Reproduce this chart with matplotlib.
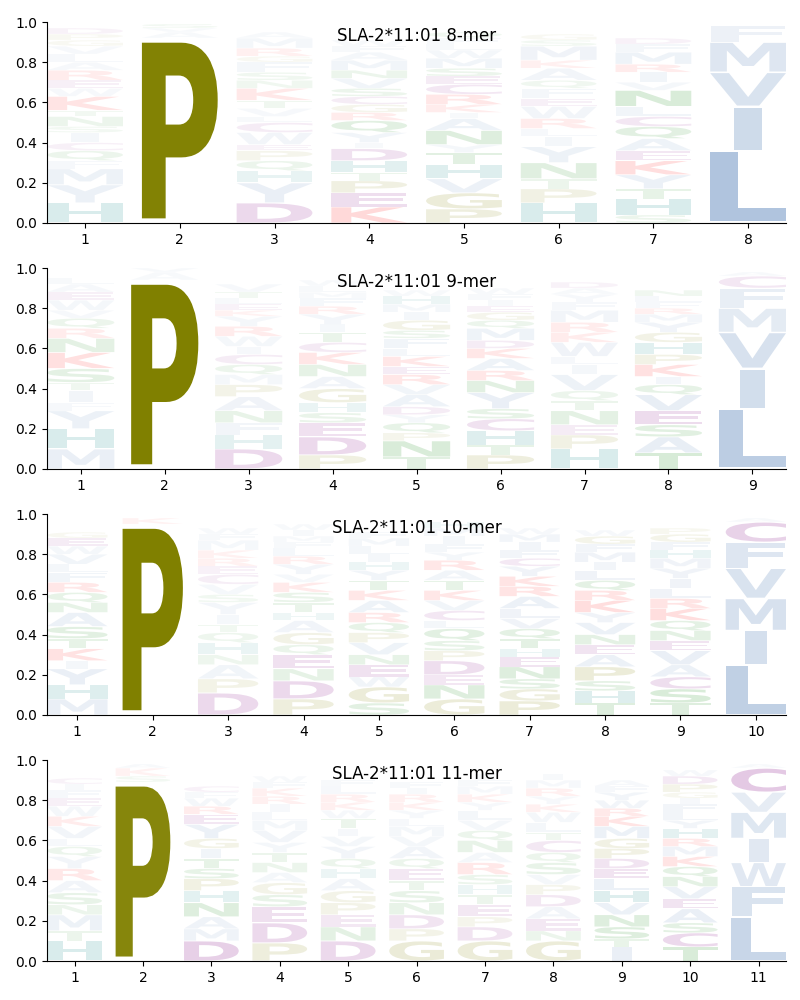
import numpy as np
import matplotlib
matplotlib.use("Agg")
import matplotlib.pyplot as plt
from matplotlib.textpath import TextPath
from matplotlib.patches import PathPatch
from matplotlib.font_manager import FontProperties
from matplotlib.transforms import Affine2D

# letters per position, listed bottom -> top, with their heights
letters_8mer = [
    "HYMFQCISNTKWERALVGPD",
    "PAVS",
    "DYHQPEWCLVTKNSFGRMA",
    "KEPTHDIYQRGCSVNMAFW",
    "PGVHTYNAIKRCESMWLFQ",
    "HPTNYILRWEFQAKMSG",
    "SHTYKEAQCLNVIRMFD",
    "LIVMF",
]
heights_8mer = [
    [.10, .09, .08, .04, .05, .04, .05, .03, .05, .03, .07, .04, .04, .05, .04, .04, .04, .03, .03, .03],
    [.92, .03, .02, .02],
    [.10, .10, .06, .05, .05, .03, .06, .05, .03, .04, .04, .06, .04, .04, .05, .03, .04, .05, .03],
    [.08, .07, .06, .04, .06, .06, .03, .05, .06, .04, .04, .04, .04, .05, .04, .05, .04, .03, .03],
    [.07, .08, .07, .07, .06, .04, .07, .06, .03, .04, .05, .05, .04, .04, .05, .04, .03, .03, .03],
    [.10, .07, .05, .08, .08, .05, .04, .05, .06, .04, .05, .04, .06, .04, .07, .03, .03],
    [.04, .08, .05, .07, .07, .05, .06, .06, .05, .05, .08, .04, .05, .04, .06, .04, .03],
    [.36, .22, .17, .15, .08],
]

letters_9mer = [
    "MHYFITSKNRQVWEAL",
    "PAV",
    "DHFNAPMQCIWRYKELTV",
    "PDESHGANKCTIYRFMLW",
    "TNPQYDAVREKLFSGIMHW",
    "PTHCSYNRAKDMQGEIFW",
    "HPENTQVILWKRMFYAD",
    "TASEVQIKPHGYMRFLN",
    "LIVMFCA",
]
heights_9mer = [
    [.10, .10, .09, .04, .06, .04, .07, .08, .07, .05, .05, .04, .05, .04, .04, .03],
    [.94, .04, .02],
    [.10, .07, .06, .06, .07, .06, .05, .05, .05, .04, .05, .05, .05, .03, .03, .03, .03, .04],
    [.07, .09, .07, .05, .05, .07, .06, .06, .06, .05, .05, .04, .05, .04, .04, .03, .03, .03],
    [.06, .08, .04, .05, .04, .04, .06, .05, .05, .04, .05, .04, .05, .04, .05, .04, .04, .04, .03],
    [.07, .05, .07, .06, .05, .08, .06, .05, .06, .05, .04, .06, .04, .04, .03, .03, .03, .03],
    [.10, .07, .05, .07, .05, .05, .08, .05, .04, .07, .05, .05, .06, .04, .04, .03, .03],
    [.08, .08, .06, .07, .08, .05, .04, .06, .05, .06, .05, .05, .04, .03, .03, .03, .03],
    [.30, .20, .18, .12, .10, .06, .02],
]

letters_10mer = [
    "MHYIKTSANQRFLVWEG",
    "PK",
    "DPANHQTIYSVCERKMFW",
    "PDNEQGAHTSKVYRLFMIW",
    "SGWENVPQRAKTYHILMF",
    "GNEDPSQLCVKTARYFIMH",
    "PGSNEHTQVLARKYCFIMW",
    "THSPAENVYKRQLIMFGW",
    "TSCAVENQKRLIYMHFGP",
    "LIMVFCA",
]
heights_10mer = [
    [.08, .07, .08, .04, .06, .05, .06, .07, .05, .05, .05, .05, .04, .05, .04, .04, .03],
    [.95, .03],
    [.11, .07, .07, .05, .06, .05, .04, .05, .06, .04, .05, .05, .04, .04, .04, .05, .03, .03],
    [.08, .09, .06, .07, .05, .06, .06, .04, .05, .05, .05, .04, .05, .04, .04, .03, .03, .03, .03],
    [.06, .08, .05, .06, .05, .06, .05, .05, .05, .06, .05, .05, .05, .04, .04, .04, .04, .03],
    [.08, .07, .05, .07, .05, .05, .06, .04, .05, .05, .05, .05, .05, .05, .04, .04, .04, .04, .03],
    [.07, .06, .05, .06, .05, .04, .05, .05, .05, .05, .06, .05, .05, .05, .04, .04, .04, .04, .03],
    [.06, .06, .05, .07, .06, .05, .05, .06, .05, .06, .05, .05, .05, .04, .05, .04, .04, .03],
    [.06, .07, .06, .06, .07, .05, .05, .05, .06, .05, .05, .05, .05, .05, .04, .04, .04, .03],
    [.25, .17, .16, .15, .13, .10, .02],
]

letters_11mer = [
    "HTMNSARYQLVKWEFIC",
    "PSKA",
    "DMANHPSTIGYERWFC",
    "PDESGANTYVMLIRKFW",
    "DNEPGAHQYVITWKRLF",
    "GPDNSTEQAVMLYKRIF",
    "GDPETHSRANQVLYKMFI",
    "GNEADPVSQCTLWKYRMI",
    "ITSNVHLEDPGMKRWYFA",
    "TCSAEVNQKMRHYLFIGPDW",
    "LFWIMVCA",
]
heights_11mer = [
    [.10, .05, .08, .05, .06, .06, .06, .06, .05, .04, .06, .05, .05, .04, .04, .03, .03],
    [.89, .03, .04, .02],
    [.10, .06, .06, .07, .06, .06, .05, .05, .05, .05, .07, .05, .04, .04, .03, .03],
    [.09, .10, .08, .06, .06, .05, .05, .05, .05, .06, .05, .04, .04, .04, .04, .03, .03],
    [.10, .07, .06, .06, .06, .06, .05, .05, .06, .05, .04, .05, .04, .04, .04, .04, .03],
    [.10, .06, .07, .06, .06, .05, .06, .05, .06, .05, .05, .04, .04, .04, .04, .03, .03],
    [.10, .07, .05, .06, .05, .05, .05, .06, .05, .06, .05, .05, .05, .04, .04, .04, .03, .03],
    [.10, .05, .06, .06, .06, .05, .05, .06, .05, .06, .04, .05, .05, .04, .04, .04, .04, .03],
    [.07, .04, .06, .06, .06, .06, .06, .05, .05, .05, .05, .06, .05, .04, .04, .04, .03, .03],
    [.07, .07, .05, .07, .05, .06, .05, .05, .05, .05, .04, .05, .04, .04, .04, .03, .03, .04, .04, .03],
    [.22, .15, .12, .12, .13, .10, .12, .02],
]

titles = ["SLA-2*11:01 8-mer", "SLA-2*11:01 9-mer", "SLA-2*11:01 10-mer", "SLA-2*11:01 11-mer"]

# residue colours by chemistry
colors = {}
for aa in "AVLIMFWY":
    colors[aa] = "#7296c4"
for aa in "KR":
    colors[aa] = "red"
for aa in "DEC":
    colors[aa] = "purple"
for aa in "NQST":
    colors[aa] = "green"
for aa in "GP":
    colors[aa] = "olive"
colors["H"] = "teal"

font = FontProperties(family="DejaVu Sans", weight="bold")
ref_width = TextPath((0, 0), "L", size=1, prop=font).get_extents().width


def draw_letter(ax, ch, x, y, w, h, color, alpha):
    tp = TextPath((0, 0), ch, size=1, prop=font)
    bb = tp.get_extents()
    pad = 0.025 * h
    gh = h - 2 * pad
    sx = w / max(bb.width, ref_width)
    gw = bb.width * sx
    tr = Affine2D().translate(-bb.x0, -bb.y0).scale(sx, gh / bb.height).translate(x - gw / 2, y + pad)
    path = tr.transform_path(tp)
    ax.add_patch(PathPatch(path, facecolor=color, edgecolor="none", alpha=alpha))


def draw_logo(ax, letters, heights, title):
    n = len(letters)
    for i in range(n):
        pos = i + 1
        p = np.array(heights[i])
        # column conservation drives how strongly the letters are shown
        ic = np.log2(20) + np.sum(p * np.log2(p))
        factor = min(max(ic / 3.9, 0.15), 1.0)
        bottom = 0.0
        for ch, h in zip(letters[i], heights[i]):
            a = max(factor * h / p.max(), 0.05)
            draw_letter(ax, ch, pos, bottom, 0.8, h, colors[ch], min(a, 1.0))
            bottom += h
    ax.set_xlim(0.6, n + 0.4)
    ax.set_ylim(0, 1)
    ax.set_xticks(range(1, n + 1))
    ax.set_yticks([0, 0.2, 0.4, 0.6, 0.8, 1.0])
    ax.spines["top"].set_visible(False)
    ax.spines["right"].set_visible(False)
    ax.text(0.5, 0.93, title, transform=ax.transAxes, ha="center", va="center", fontsize=12)


fig, axes = plt.subplots(4, 1, figsize=(8, 10), dpi=100)
fig.subplots_adjust(left=0.059, right=0.9825, top=0.978, bottom=0.039, hspace=0.224)

draw_logo(axes[0], letters_8mer, heights_8mer, titles[0])
draw_logo(axes[1], letters_9mer, heights_9mer, titles[1])
draw_logo(axes[2], letters_10mer, heights_10mer, titles[2])
draw_logo(axes[3], letters_11mer, heights_11mer, titles[3])

fig.savefig("out.png", dpi=100)
